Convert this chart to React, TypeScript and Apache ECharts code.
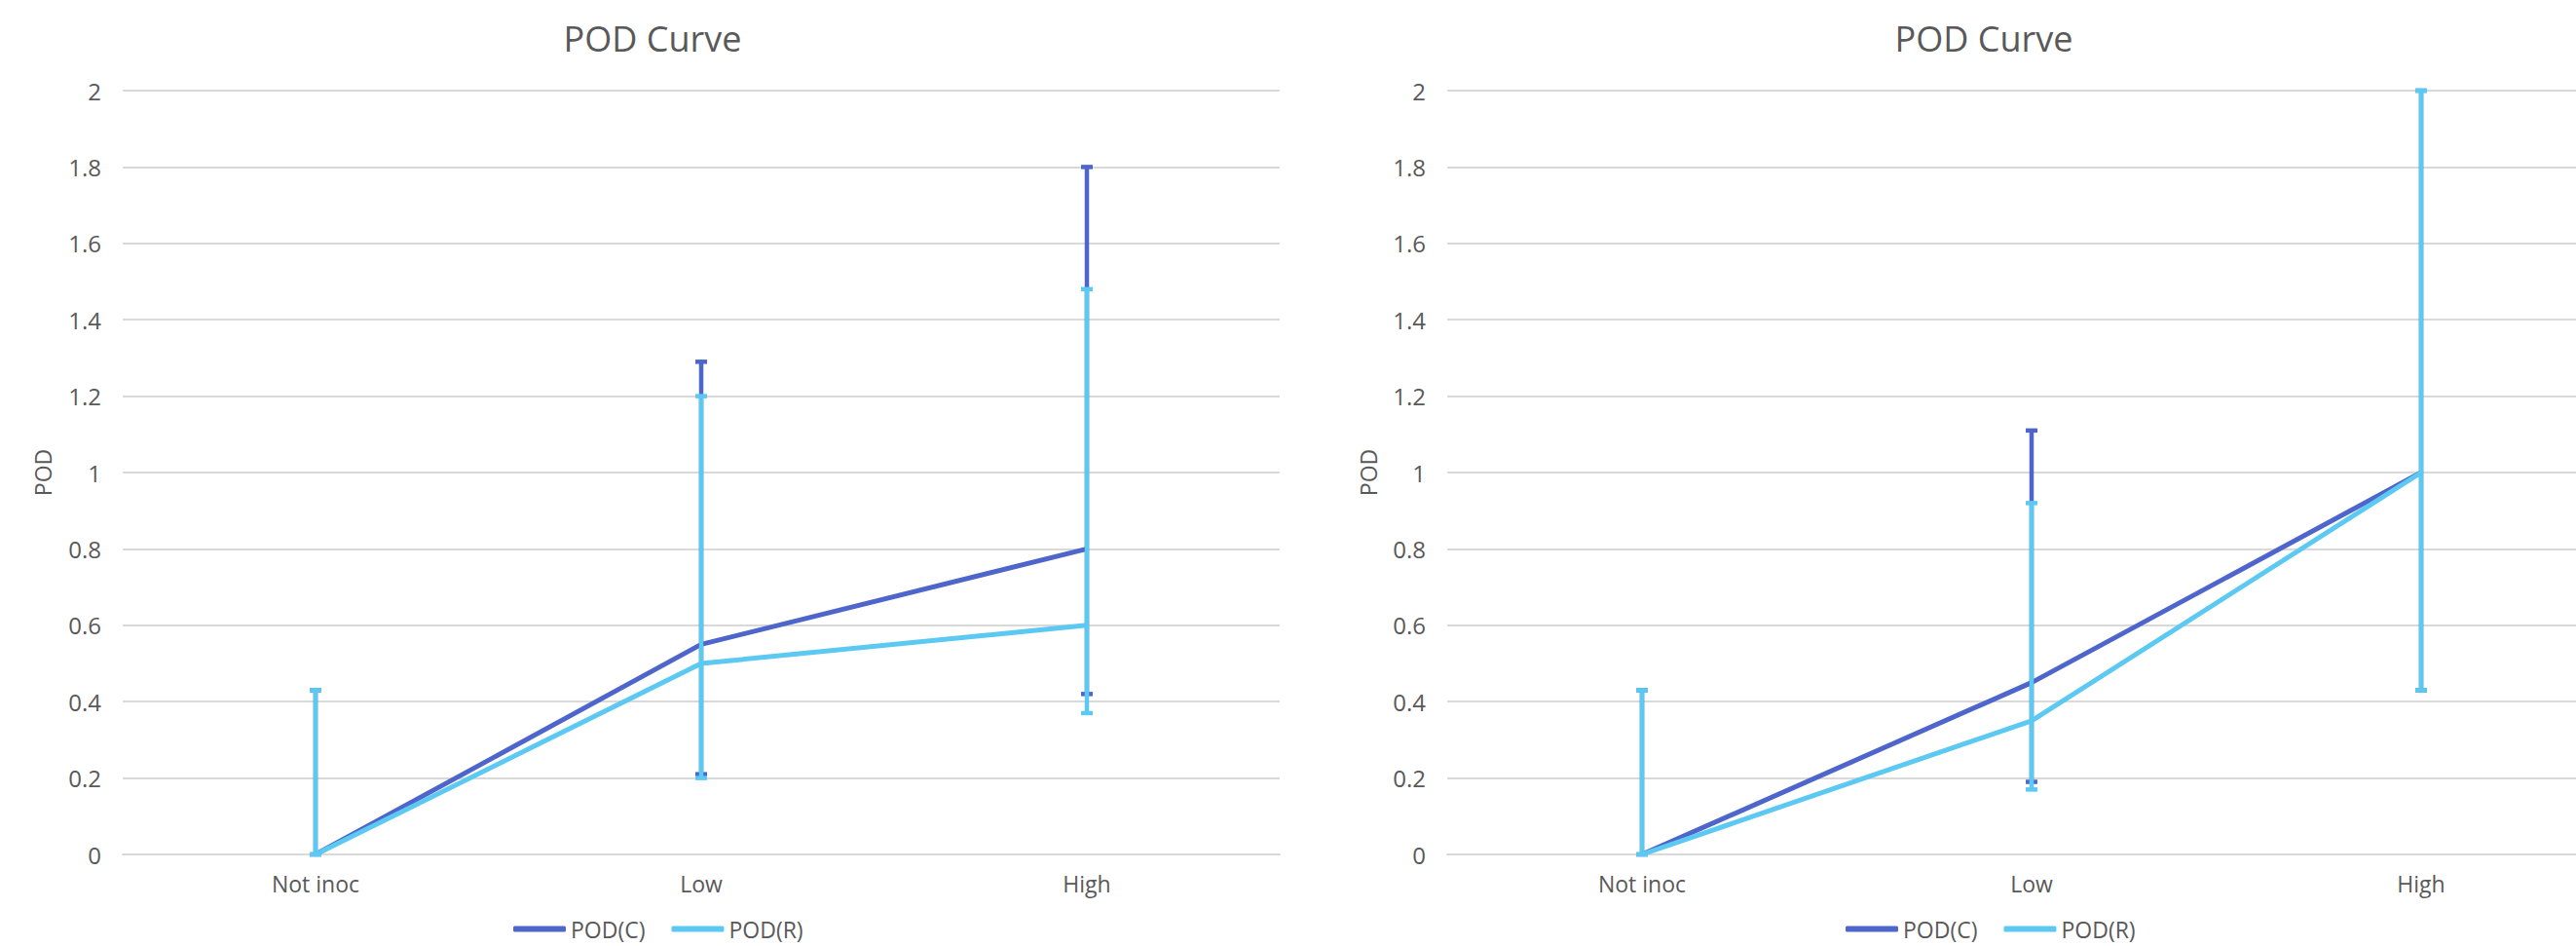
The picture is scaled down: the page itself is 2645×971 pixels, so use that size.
import React, { useEffect, useRef } from "react";
import * as echarts from "echarts";

const categories = ["Not inoc", "Low", "High"];
const yTicks = { min: 0, max: 2, interval: 0.2 };

// Left chart
const leftC = [0, 0.55, 0.8];
const leftR = [0, 0.5, 0.6];
const leftCLow = [0, 0.21, 0.42];
const leftCHigh = [0.43, 1.29, 1.8];
const leftRLow = [0, 0.2, 0.37];
const leftRHigh = [0.43, 1.2, 1.48];

// Right chart
const rightC = [0, 0.45, 1.0];
const rightR = [0, 0.35, 1.0];
const rightCLow = [0, 0.19, 0.43];
const rightCHigh = [0.43, 1.11, 2.0];
const rightRLow = [0, 0.17, 0.43];
const rightRHigh = [0.43, 0.92, 2.0];

const COLOR_C = "#4E66CB";
const COLOR_R = "#5BC9F2";
const TEXT = "#595959";
const GRID = "#D9D9D9";
const FONT = "Open Sans";

function errData(lo: number[], hi: number[]) {
  return lo.map((l, i) => [i, l, hi[i]]);
}

function makeRender(color: string) {
  return (params: any, api: any) => {
    const x = api.value(0);
    const lo = api.value(1);
    const hi = api.value(2);
    const pLo = api.coord([x, lo]);
    const pHi = api.coord([x, hi]);
    const hw = 6;
    const st = { stroke: color, lineWidth: 4.5 };
    return {
      type: "group",
      children: [
        { type: "line", shape: { x1: pHi[0], y1: pHi[1], x2: pLo[0], y2: pLo[1] }, style: st },
        { type: "line", shape: { x1: pHi[0] - hw, y1: pHi[1], x2: pHi[0] + hw, y2: pHi[1] }, style: st },
        { type: "line", shape: { x1: pLo[0] - hw, y1: pLo[1], x2: pLo[0] + hw, y2: pLo[1] }, style: st },
      ],
    };
  };
}

export default function App() {
  const ref = useRef<HTMLDivElement>(null);
  useEffect(() => {
    document.body.style.margin = "0";
    if (!ref.current) return;
    const chart = echarts.init(ref.current, undefined, { renderer: "svg" });

    const grids = [
      { left: 126, top: 93, width: 1188, height: 784 },
      { left: 1486, top: 93, width: 1200, height: 784 },
    ];
    const nameGaps = [71, 70];

    const xAxes = grids.map((_, i) => ({
      type: "category",
      gridIndex: i,
      data: categories,
      boundaryGap: true,
      axisLine: { show: true, lineStyle: { color: GRID, width: 2 } },
      axisTick: { show: false },
      axisLabel: { color: TEXT, fontSize: 23, fontFamily: FONT, margin: 18 },
    }));
    const yAxes = grids.map((_, i) => ({
      type: "value",
      gridIndex: i,
      min: yTicks.min,
      max: yTicks.max,
      interval: yTicks.interval,
      name: "POD",
      nameLocation: "middle",
      nameRotate: 90,
      nameGap: nameGaps[i],
      nameTextStyle: { color: TEXT, fontSize: 23, fontFamily: FONT },
      axisLine: { show: false },
      axisTick: { show: false },
      axisLabel: { color: TEXT, fontSize: 24, fontFamily: FONT, margin: 22 },
      splitLine: { show: true, lineStyle: { color: GRID, width: 2 } },
    }));

    const sets = [
      { c: leftC, r: leftR, cl: leftCLow, ch: leftCHigh, rl: leftRLow, rh: leftRHigh },
      { c: rightC, r: rightR, cl: rightCLow, ch: rightCHigh, rl: rightRLow, rh: rightRHigh },
    ];
    const series: any[] = [];
    sets.forEach((s, i) => {
      series.push({
        name: "POD(C)",
        type: "line",
        xAxisIndex: i,
        yAxisIndex: i,
        data: s.c,
        symbol: "none",
        lineStyle: { color: COLOR_C, width: 5 },
        itemStyle: { color: COLOR_C },
        z: 2,
      });
      series.push({
        name: "POD(C) error",
        type: "custom",
        xAxisIndex: i,
        yAxisIndex: i,
        data: errData(s.cl, s.ch),
        encode: { x: 0, y: [1, 2] },
        renderItem: makeRender(COLOR_C),
        z: 3,
      });
      series.push({
        name: "POD(R)",
        type: "line",
        xAxisIndex: i,
        yAxisIndex: i,
        data: s.r,
        symbol: "none",
        lineStyle: { color: COLOR_R, width: 5 },
        itemStyle: { color: COLOR_R },
        z: 4,
      });
      series.push({
        name: "POD(R) error",
        type: "custom",
        xAxisIndex: i,
        yAxisIndex: i,
        data: errData(s.rl, s.rh),
        encode: { x: 0, y: [1, 2] },
        renderItem: makeRender(COLOR_R),
        z: 5,
      });
    });

    const legendBase = {
      data: ["POD(C)", "POD(R)"],
      icon: "roundRect",
      itemWidth: 54,
      itemHeight: 6,
      itemGap: 27,
      top: 942,
      padding: 0,
      selectedMode: false,
      textStyle: { color: TEXT, fontSize: 23, fontFamily: FONT },
    };

    chart.setOption({
      animation: false,
      backgroundColor: "#ffffff",
      grid: grids,
      xAxis: xAxes,
      yAxis: yAxes,
      legend: [
        { ...legendBase, left: 527 },
        { ...legendBase, left: 1895 },
      ],
      graphic: [
        {
          type: "text",
          x: 670,
          y: 39,
          style: { text: "POD Curve", fill: TEXT, fontSize: 36, fontFamily: FONT, textAlign: "center", textVerticalAlign: "middle" },
        },
        {
          type: "text",
          x: 2037,
          y: 39,
          style: { text: "POD Curve", fill: TEXT, fontSize: 36, fontFamily: FONT, textAlign: "center", textVerticalAlign: "middle" },
        },
      ],
      series,
    });
    return () => chart.dispose();
  }, []);
  return (
    <div style={{ width: 2645, height: 971, overflow: "hidden", position: "relative" }}>
      <div ref={ref} style={{ width: 2700, height: 971 }} />
    </div>
  );
}
